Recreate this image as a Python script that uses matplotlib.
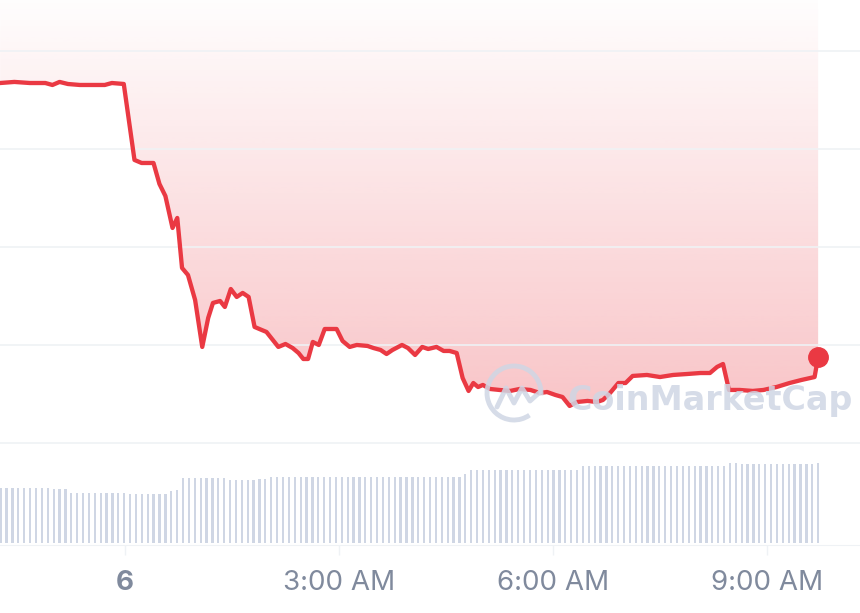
import numpy as np
import matplotlib
matplotlib.use('Agg')
import matplotlib.pyplot as plt
from matplotlib.colors import to_rgb
from matplotlib.patches import Arc

# Price line: minutes from midnight and price
price_time = [-105, -93, -80, -67, -61, -55, -48, -38, -25, -17, -11, -1,
              8, 14, 24, 29, 34, 40, 44, 48, 53, 59, 65, 70, 74, 80, 84, 89,
              94, 99, 104, 109, 115, 119, 129, 135, 141, 146, 150, 154, 158,
              163, 168, 178, 183, 189, 195, 204, 209, 215, 220, 225, 233, 238,
              244, 250, 255, 262, 268, 273, 279, 284, 289, 293, 297, 301, 307,
              315, 324, 332, 341, 349, 355, 362, 368, 374, 380, 389, 397, 402,
              408, 415, 421, 427, 439, 450, 461, 473, 484, 492, 498, 503, 508,
              517, 528, 537, 548, 559, 569, 580, 583]
price = [13.673, 13.684, 13.673, 13.673, 13.653, 13.684, 13.663, 13.653, 13.653,
         13.653, 13.673, 13.663, 12.888, 12.857, 12.857, 12.643, 12.520, 12.194,
         12.296, 11.786, 11.714, 11.459, 10.980, 11.276, 11.429, 11.449, 11.388,
         11.571, 11.490, 11.531, 11.490, 11.184, 11.153, 11.133, 10.980, 11.010,
         10.969, 10.918, 10.857, 10.857, 11.031, 11.000, 11.163, 11.163, 11.041,
         10.980, 11.000, 10.990, 10.969, 10.949, 10.908, 10.949, 11.000, 10.969,
         10.898, 10.980, 10.959, 10.980, 10.939, 10.939, 10.918, 10.663, 10.531,
         10.612, 10.571, 10.592, 10.551, 10.541, 10.531, 10.551, 10.541, 10.510,
         10.520, 10.490, 10.469, 10.378, 10.418, 10.429, 10.418, 10.439, 10.510,
         10.612, 10.612, 10.684, 10.694, 10.673, 10.694, 10.704, 10.714, 10.714,
         10.776, 10.806, 10.541, 10.541, 10.531, 10.541, 10.571, 10.612, 10.643,
         10.673, 10.878]

# Volume bars, one every ~5 minutes
vol_time = np.linspace(-104.5, 583, 140)
volume = [55, 55, 55, 55, 55, 55, 55, 55, 55, 54,
          54, 54, 50, 50, 50, 50, 50, 50, 50, 50,
          50, 50, 49, 49, 49, 49, 49, 49, 49, 52,
          53, 65, 65, 65, 65, 65, 65, 65, 65, 63,
          63, 63, 63, 63, 64, 64, 66, 66, 66, 66,
          66, 66, 66, 66, 66, 66, 66, 66, 66, 66,
          66, 66, 66, 66, 66, 66, 66, 66, 66, 66,
          66, 66, 66, 66, 66, 66, 66, 66, 66, 69,
          73, 73, 73, 73, 73, 73, 73, 73, 73, 73,
          73, 73, 73, 73, 73, 73, 73, 73, 73, 77,
          77, 77, 77, 77, 77, 77, 77, 77, 77, 77,
          77, 77, 77, 77, 77, 77, 77, 77, 77, 77,
          77, 77, 77, 77, 80, 80, 79, 79, 79, 79,
          79, 79, 79, 79, 79, 79, 79, 79, 79, 80]

tick_pos = [0, 180, 360, 540]
tick_labels = ['6', '3:00 AM', '6:00 AM', '9:00 AM']
grid_levels = [10, 11, 12, 13, 14]

red = '#EA3943'
bar_col = '#CFD6E4'
grid_col = '#EFF2F5'
label_col = '#808A9D'

fig = plt.figure(figsize=(8.6, 6.13), dpi=100)

# price panel
ax = fig.add_axes([0, 68 / 613, 1, 545 / 613])
ymin, ymax = 8.959, 14.52
xmin, xmax = -105.1, 618.2

# gradient fill above the line
poly = ax.fill_between(price_time, price, ymax, facecolor='none', lw=0)
rgba = np.zeros((256, 1, 4))
rgba[..., :3] = to_rgb(red)
rgba[:, 0, 3] = np.linspace(0.30, 0.01, 256)
img = ax.imshow(rgba, extent=[price_time[0], price_time[-1], 10.3, ymax],
                origin='lower', aspect='auto', zorder=1, interpolation='bilinear')
img.set_clip_path(poly.get_paths()[0], transform=ax.transData)

ax.plot(price_time, price, color=red, lw=3.1, zorder=3, solid_joinstyle='round')
ax.plot(price_time[-1], price[-1], 'o', color=red, ms=14, zorder=4)

ax.set_xlim(xmin, xmax)
ax.set_ylim(ymin, ymax)
ax.set_yticks(grid_levels)
ax.grid(axis='y', color=grid_col, lw=1.2, zorder=0)
ax.tick_params(axis='y', length=0, labelleft=False)
for s in ['left', 'right', 'top']:
    ax.spines[s].set_visible(False)
ax.spines['bottom'].set_color(grid_col)
ax.set_xticks(tick_pos, tick_labels)
ax.tick_params(axis='x', length=7, width=1, color=grid_col, labelcolor=label_col,
               labelsize=20, pad=11)
for lab in ax.get_xticklabels():
    lab.set_family(['Inter', 'DejaVu Sans'])
ax.get_xticklabels()[0].set_fontweight('bold')

# volume panel
axv = fig.add_axes([0, 70 / 613, 1, 100 / 613])
axv.bar(vol_time, volume, width=1.9, color=bar_col, lw=0)
axv.set_xlim(xmin, xmax)
axv.set_ylim(0, 100)
axv.axis('off')

# watermark
wm = fig.add_axes([0, 0, 1, 1])
wm.set_xlim(0, 860)
wm.set_ylim(613, 0)
wm.axis('off')
wm.text(567, 410, 'CoinMarketCap', fontsize=24, fontweight='bold',
        family='DejaVu Sans', color=bar_col, alpha=0.85, va='baseline', ha='left')
wm.add_patch(Arc((514, 393), 54, 54, theta1=55, theta2=365, color=bar_col,
                 lw=3.5, alpha=0.85))
wm.plot([497, 506, 514, 522, 530, 540], [407, 388, 403, 388, 401, 392],
        color=bar_col, lw=3.5, alpha=0.85, solid_joinstyle='round',
        solid_capstyle='round')

fig.savefig('out.png', dpi=100)
